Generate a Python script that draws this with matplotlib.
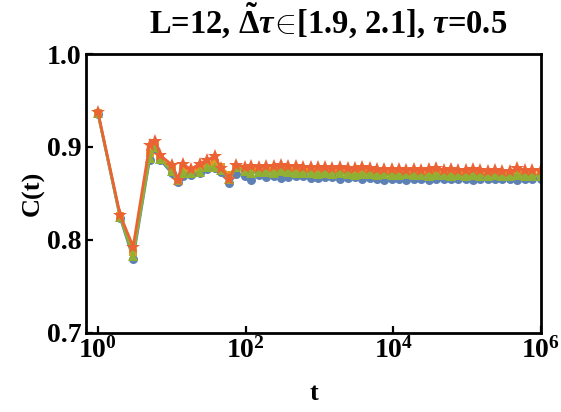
import matplotlib
matplotlib.use('Agg')
import matplotlib.pyplot as plt
from matplotlib.ticker import FixedLocator, NullLocator

plt.rcParams['font.family'] = ['Liberation Serif', 'DejaVu Serif']
plt.rcParams['font.weight'] = 'bold'
plt.rcParams['mathtext.fontset'] = 'custom'
plt.rcParams['mathtext.rm'] = 'Liberation Serif:bold'
plt.rcParams['mathtext.it'] = 'Liberation Serif:italic:bold'
plt.rcParams['mathtext.bf'] = 'Liberation Serif:bold'

# time points (log spaced)
t = [1, 2, 3, 5, 6, 7, 10, 12, 14, 18,
     24, 30, 38, 47, 60, 75, 97, 120, 150, 190,
     240, 300, 380, 480, 600, 760, 950, 1200, 1500, 1900,
     2400, 3000, 3800, 4800, 6000, 7600, 9500, 12000, 15000, 19000,
     24000, 30000, 38000, 48000, 60000, 76000, 95000, 120000, 150000, 190000,
     240000, 300000, 380000, 480000, 600000, 760000, 1000000]

c_blue = [0.936, 0.824, 0.780, 0.886, 0.898, 0.886, 0.872, 0.862, 0.869, 0.870,
          0.872, 0.876, 0.877, 0.873, 0.861, 0.871, 0.869, 0.865, 0.870, 0.868,
          0.869, 0.867, 0.868, 0.869, 0.869, 0.867, 0.867, 0.868, 0.868, 0.866,
          0.867, 0.868, 0.866, 0.867, 0.866, 0.865, 0.866, 0.866, 0.865, 0.866,
          0.866, 0.865, 0.866, 0.866, 0.866, 0.866, 0.866, 0.865, 0.866, 0.866,
          0.866, 0.866, 0.866, 0.865, 0.866, 0.866, 0.866]

c_yellow = [0.937, 0.826, 0.787, 0.894, 0.903, 0.889, 0.877, 0.866, 0.876, 0.874,
            0.877, 0.881, 0.883, 0.878, 0.870, 0.879, 0.876, 0.876, 0.876, 0.876,
            0.876, 0.876, 0.875, 0.875, 0.875, 0.875, 0.874, 0.874, 0.874, 0.874,
            0.873, 0.874, 0.873, 0.873, 0.873, 0.873, 0.872, 0.873, 0.872, 0.872,
            0.872, 0.872, 0.873, 0.872, 0.872, 0.872, 0.871, 0.872, 0.872, 0.871,
            0.872, 0.871, 0.871, 0.872, 0.871, 0.871, 0.871]

c_green = [0.937, 0.825, 0.783, 0.888, 0.900, 0.887, 0.874, 0.864, 0.872, 0.872,
           0.873, 0.878, 0.879, 0.875, 0.866, 0.878, 0.874, 0.872, 0.873, 0.873,
           0.872, 0.874, 0.873, 0.872, 0.872, 0.872, 0.871, 0.872, 0.871, 0.872,
           0.871, 0.870, 0.871, 0.871, 0.870, 0.871, 0.870, 0.870, 0.871, 0.870,
           0.870, 0.869, 0.870, 0.870, 0.869, 0.870, 0.869, 0.870, 0.869, 0.869,
           0.870, 0.869, 0.869, 0.870, 0.869, 0.869, 0.869]

c_star = [0.938, 0.827, 0.793, 0.902, 0.906, 0.891, 0.881, 0.865, 0.882, 0.876,
          0.882, 0.886, 0.890, 0.877, 0.866, 0.881, 0.879, 0.880, 0.879, 0.880,
          0.880, 0.881, 0.880, 0.880, 0.879, 0.879, 0.878, 0.878, 0.877, 0.878,
          0.877, 0.877, 0.878, 0.877, 0.876, 0.876, 0.876, 0.876, 0.875, 0.876,
          0.875, 0.876, 0.877, 0.875, 0.876, 0.875, 0.875, 0.876, 0.875, 0.874,
          0.875, 0.874, 0.874, 0.877, 0.875, 0.875, 0.875]

fig = plt.figure(figsize=(5.61, 4.12), dpi=100)
ax = fig.add_axes([86 / 561, 1 - 333 / 412, 455 / 561, 279 / 412])

ax.plot(t, c_blue, color='#5E81B5', lw=1.9, marker='o', ms=6.5, mew=0)
ax.plot(t, c_yellow, color='#E19C24', lw=1.9, marker='s', ms=6, mew=0)
ax.plot(t, c_green, color='#8FB032', lw=1.9, marker='^', ms=7.5, mew=0)
ax.plot(t, c_star, color='#EB6235', lw=1.9, marker='*', ms=10, mew=0)

ax.set_xscale('log')
ax.set_xlim(0.69, 1e6)
ax.set_ylim(0.7, 1.0)

ax.xaxis.set_major_locator(FixedLocator([1, 1e2, 1e4, 1e6]))
ax.xaxis.set_minor_locator(NullLocator())
ax.set_xticklabels([r'$\mathbf{10^{0}}$', r'$\mathbf{10^{2}}$',
                    r'$\mathbf{10^{4}}$', r'$\mathbf{10^{6}}$'])
ax.set_yticks([0.7, 0.8, 0.9, 1.0])
ax.set_yticklabels(['0.7', '0.8', '0.9', '1.0'])

ax.tick_params(direction='in', length=5, width=1.6, labelsize=20, pad=3)
for s in ax.spines.values():
    s.set_linewidth(2)

ax.set_xlabel('t', fontsize=19, fontweight='bold', labelpad=13)
ax.set_ylabel('C(t)', fontsize=19, fontweight='bold', labelpad=2)

ax.text(0.532, 1.076, r'L=12, $\tilde{\Delta}\tau\!\in\!$[1.9, 2.1], $\tau$=0.5',
        transform=ax.transAxes, ha='center', va='baseline', fontsize=23.5,
        fontweight='bold')

plt.savefig('out.png', dpi=100)
